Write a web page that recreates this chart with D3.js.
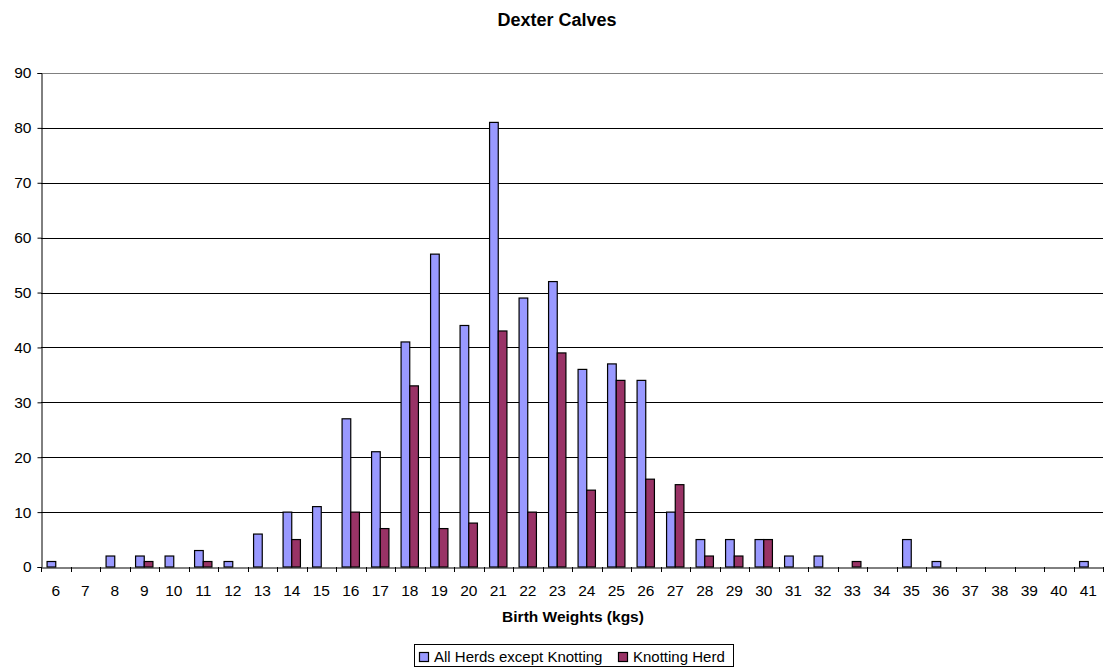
<!DOCTYPE html>
<html><head><meta charset="utf-8">
<script src="https://cdn.jsdelivr.net/npm/d3@7"></script>
<style>body{margin:0;background:#fff;}svg{display:block;font-family:"Liberation Sans",Arial,sans-serif;}</style>
</head><body><svg id="c" width="1105" height="671"></svg>
<script>
const categories = ["6","7","8","9","10","11","12","13","14","15","16","17","18","19","20","21","22","23","24","25","26","27","28","29","30","31","32","33","34","35","36","37","38","39","40","41"];
const allHerds = [1,0,2,2,2,3,1,6,10,11,27,21,41,57,44,81,49,52,36,37,34,10,5,5,5,2,2,0,0,5,1,0,0,0,0,1];
const knotting = [0,0,0,1,0,1,0,0,5,0,10,7,33,7,8,43,10,39,14,34,16,15,2,2,5,0,0,1,0,0,0,0,0,0,0,0];
const seriesNames = ["All Herds except Knotting","Knotting Herd"];
const yTicks = [0,10,20,30,40,50,60,70,80,90];
const colors = ["#9999FF","#993366"];

const svg = d3.select("#c");
const L=41, R=1103, T=73, B=567;
const x = d3.scaleBand().domain(categories).range([L,R]).padding(0);
const y = d3.scaleLinear().domain([0,90]).range([B,T]);
const bw = x.bandwidth()/3.4;

// gridlines
svg.append("g").selectAll("line").data(yTicks.filter(d=>d>0)).join("line")
  .attr("x1",L).attr("x2",R).attr("y1",d=>Math.round(y(d))+0.5).attr("y2",d=>Math.round(y(d))+0.5)
  .attr("stroke",d=>d===90?"#808080":"#000").attr("stroke-width",1);

// bars
const series = [allHerds, knotting];
series.forEach((vals,si)=>{
  svg.append("g").selectAll("rect").data(vals.map((v,i)=>({c:categories[i],v}))).join("rect")
    .filter(d=>d.v>0)
    .attr("x",d=>x(d.c)+x.bandwidth()/2 - bw + si*bw)
    .attr("y",d=>y(d.v))
    .attr("width",bw)
    .attr("height",d=>B-y(d.v))
    .attr("fill",colors[si]).attr("stroke","#000").attr("stroke-width",1.2);
});

// y axis
const yAxis = d3.axisLeft(y).tickValues(yTicks).tickSize(4).tickPadding(6);
const gy = svg.append("g").attr("transform",`translate(${L+0.5},0)`).call(yAxis);
gy.select(".domain").attr("stroke","#000");
gy.selectAll("text").attr("font-size",15.5).attr("fill","#000").style("font-family","Liberation Sans, Arial, sans-serif");

// x axis
const xAxis = d3.axisBottom(x).tickSize(0).tickPadding(17);
const gx = svg.append("g").attr("transform",`translate(0,${B+0.5})`).call(xAxis);
gx.select(".domain").attr("stroke","#000");
gx.selectAll("text").attr("font-size",15.5).attr("fill","#000").style("font-family","Liberation Sans, Arial, sans-serif");
// category boundary ticks
svg.append("g").selectAll("line").data(categories.concat(["end"])).join("line")
  .attr("x1",(d,i)=>Math.round(L+i*x.bandwidth())+0.5).attr("x2",(d,i)=>Math.round(L+i*x.bandwidth())+0.5)
  .attr("y1",B).attr("y2",B+5).attr("stroke","#000");

// title
svg.append("text").attr("x",557).attr("y",26).attr("text-anchor","middle")
  .attr("font-size",18).attr("font-weight","bold").text("Dexter Calves");
svg.append("text").attr("x",573).attr("y",622).attr("text-anchor","middle")
  .attr("font-size",15.5).attr("font-weight","bold").text("Birth Weights (kgs)");

// legend
const lg = svg.append("g");
lg.append("rect").attr("x",414.5).attr("y",644.5).attr("width",319).attr("height",22).attr("fill","#fff").attr("stroke","#000");
const items = [{n:seriesNames[0],c:colors[0],x:419},{n:seriesNames[1],c:colors[1],x:618}];
items.forEach(it=>{
  lg.append("rect").attr("x",it.x+0.5).attr("y",652.5).attr("width",9).attr("height",9).attr("fill",it.c).attr("stroke","#000").attr("stroke-width",1.2);
  lg.append("text").attr("x",it.x+15).attr("y",662).attr("font-size",15).text(it.n);
});
</script></body></html>
